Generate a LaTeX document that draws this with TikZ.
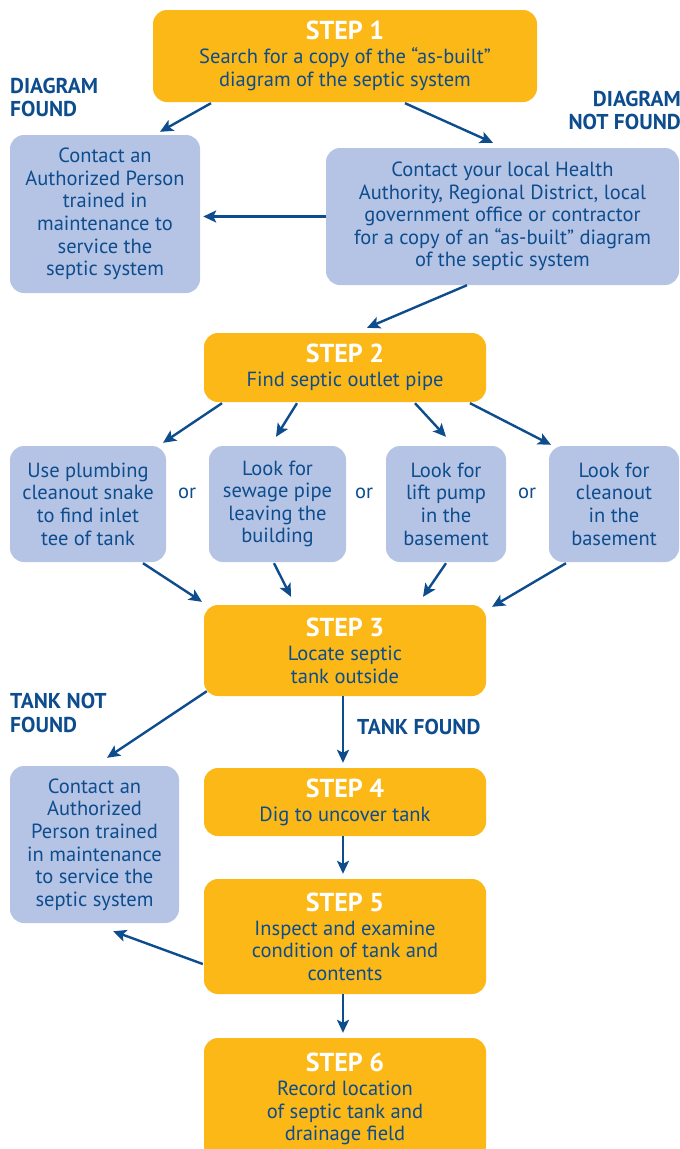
\documentclass[tikz,border=0pt]{standalone}
\usepackage{fontspec}
\setmainfont{PT Sans}
\usetikzlibrary{arrows.meta,calc}

\definecolor{stepyellow}{HTML}{FBB817}
\definecolor{optblue}{HTML}{B5C4E5}
\definecolor{inkblue}{HTML}{0D4C8D}

\newcommand{\bodyfont}{\fontsize{20.5}{22.6}\selectfont}
\newcommand{\labelfont}{\fontsize{21.5}{23.5}\selectfont\bfseries}
\newcommand{\steptitle}[1]{{\fontsize{26}{24}\selectfont\bfseries\color{white}#1}}

\tikzset{
  stepbox/.style={fill=stepyellow, rounded corners=14pt, text=inkblue,
    align=center, inner sep=0pt, font=\bodyfont},
  optbox/.style={fill=optblue, rounded corners=14pt, text=inkblue,
    align=center, inner sep=0pt, font=\bodyfont},
  flow/.style={draw=inkblue, line width=2.4pt,
    -{Stealth[length=13pt,width=12pt,inset=3pt]}},
  branchlabel/.style={text=inkblue, font=\labelfont, inner sep=0pt},
  ortext/.style={text=inkblue, font=\bodyfont, inner sep=0pt},
}

\begin{document}
\begin{tikzpicture}[x=1pt,y=-1pt]
\useasboundingbox (0,0) rectangle (680,1149);
\clip (0,0) rectangle (680,1149);

% ---- step boxes ----
\node[stepbox, minimum width=384pt, minimum height=92pt] (s1) at (345,56)
  {\steptitle{STEP 1}\\[1.5pt]Search for a copy of the “as-built”\\diagram of the septic system};
\node[stepbox, minimum width=282pt, minimum height=69pt] (s2) at (345,367.5)
  {\steptitle{STEP 2}\\[1.5pt]Find septic outlet pipe};
\node[stepbox, minimum width=282pt, minimum height=91pt] (s3) at (345,650.5)
  {\steptitle{STEP 3}\\[1.5pt]Locate septic\\tank outside};
\node[stepbox, minimum width=282pt, minimum height=68pt] (s4) at (345,802)
  {\steptitle{STEP 4}\\[1.5pt]Dig to uncover tank};
\node[stepbox, minimum width=282pt, minimum height=115pt] (s5) at (345,936.5)
  {\steptitle{STEP 5}\\[1.5pt]Inspect and examine\\condition of tank and\\contents};
\node[stepbox, minimum width=282pt, minimum height=122pt] (s6) at (345,1099)
  {\steptitle{STEP 6}\\[1.5pt]Record location\\of septic tank and\\drainage field};

% ---- option / contact boxes ----
\node[optbox, minimum width=190pt, minimum height=158pt] (a) at (105,214)
  {Contact an\\Authorized Person\\trained in\\maintenance to\\service the\\septic system};
\node[optbox, minimum width=353pt, minimum height=137pt] (b) at (502.5,216.5)
  {Contact your local Health\\Authority, Regional District, local\\government office or contractor\\for a copy of an “as-built” diagram\\of the septic system};
\node[optbox, minimum width=156pt, minimum height=116pt] (o1) at (88,504)
  {Use plumbing\\cleanout snake\\to find inlet\\tee of tank};
\node[optbox, minimum width=137pt, minimum height=116pt] (o2) at (277.5,504)
  {Look for\\sewage pipe\\leaving the\\building};
\node[optbox, minimum width=120pt, minimum height=116pt] (o3) at (446,504)
  {Look for\\lift pump\\in the\\basement};
\node[optbox, minimum width=130pt, minimum height=116pt] (o4) at (614,504)
  {Look for\\cleanout\\in the\\basement};
\node[optbox, minimum width=169pt, minimum height=157pt] (c) at (94.5,844.5)
  {Contact an\\Authorized\\Person trained\\in maintenance\\to service the\\septic system};

% ---- "or" between options ----
\node[ortext] (or1) at (187,493) {or};
\node[ortext] (or2) at (364,493) {or};
\node[ortext] (or3) at (527,493) {or};

% ---- branch labels ----
\node[branchlabel, anchor=west, align=left] (lfound) at (10,97.5) {DIAGRAM\\FOUND};
\node[branchlabel, anchor=east, align=right] (lnotfound) at (681,110.5) {DIAGRAM\\NOT FOUND};
\node[branchlabel, anchor=west, align=left] (ltanknot) at (10,713) {TANK NOT\\FOUND};
\node[branchlabel, anchor=west, align=left] (ltank) at (357,727) {TANK FOUND};

% ---- connectors ----
\draw[flow] ($(s1.south)+(-134,1)$) -- ($(a.north)+(55,-3)$);
\draw[flow] ($(s1.south)+(60,1)$) -- ($(b.north)+(-9.5,-5)$);
\draw[flow] (b.west) -- ($(b.west -| a.east)+(3,0)$);
\draw[flow] ($(b.south)+(-35.5,0)$) -- ($(s2.north)+(22,-5)$);

\draw[flow] ($(s2.south)+(-123,1)$) -- ($(o1.north)+(75,-3)$);
\draw[flow] ($(s2.south)+(-48,1)$) -- ($(o2.north)+(-1.5,-9)$);
\draw[flow] ($(s2.south)+(70,1)$) -- ($(o3.north)+(0,-9)$);
\draw[flow] ($(s2.south)+(125,1)$) -- ($(o4.north)+(-63,-1)$);

\draw[flow] ($(o1.south)+(55,1)$) -- ($(s3.north)+(-143,-3)$);
\draw[flow] ($(o2.south)+(-3.5,1)$) -- ($(s3.north)+(-54,-8)$);
\draw[flow] ($(o3.south)+(0,1)$) -- ($(s3.north)+(78,-8)$);
\draw[flow] ($(o4.south)+(-48,1)$) -- ($(s3.north)+(147,2)$);

\draw[flow] ($(s3.south west)+(3,-5)$) -- ($(c.north)+(12.5,-8)$);
\draw[flow] ($(s3.south)+(-2,0)$) -- ($(s4.north)+(-2,-5)$);
\draw[flow] ($(s4.south)+(-2,0)$) -- ($(s5.north)+(-2,-5)$);
\draw[flow] ($(s5.west)+(-1,27.5)$) -- ($(c.south east)+(-66,8)$);
\draw[flow] ($(s5.south)+(-2,0)$) -- ($(s6.north)+(-2,-5)$);
\end{tikzpicture}
\end{document}
